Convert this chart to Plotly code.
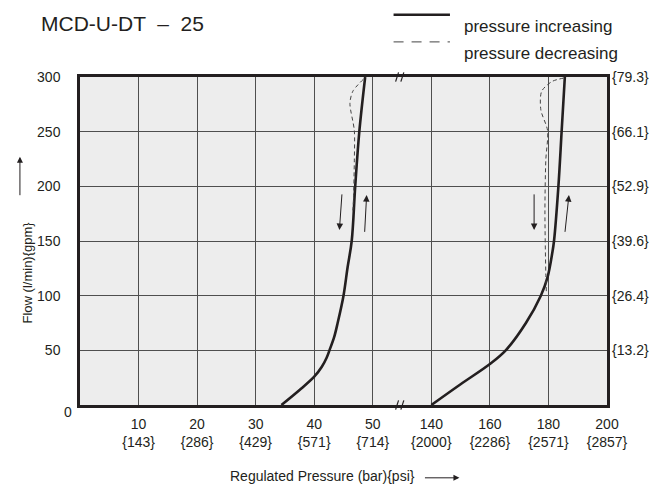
import plotly.graph_objects as go

# ---------------- data ----------------
# low-pressure model (bar) – pressure increasing
left_inc_bar = [34.4, 37.5, 40.0, 41.3, 42.1, 42.6, 43.4, 44.0, 45.0, 45.7, 46.4, 47.0, 47.7, 48.7]
left_inc_flow = [0, 13.7, 25.9, 35, 43, 50, 62, 75, 100, 126, 150, 200, 250, 300]
# low-pressure model – pressure decreasing
left_dec_bar = [48.4, 46.6, 46.1, 46.85, 46.85, 46.7, 46.6]
left_dec_flow = [298, 287, 276, 251, 224, 188, 178]
# high-pressure model – pressure increasing
right_inc_bar = [140, 150, 160, 165.4, 172.3, 177.4, 179.7, 181.3, 181.9, 183.4, 184.5, 185.6]
right_inc_flow = [0, 19, 37.5, 50, 75, 100, 117, 139, 150, 200, 250, 300]
# high-pressure model – pressure decreasing
right_dec_bar = [185.2, 181.3, 177.7, 177.4, 179.7, 179.1, 178.8, 179.1, 179.3]
right_dec_flow = [299, 296, 287, 270, 251, 224, 178, 120, 102]

# direction arrows: (tail bar, tail flow, head bar, head flow)
arrows_down = [(44.75, 194, 44.3, 160), (175.1, 194, 175.1, 160)]
arrows_up = [(48.6, 157, 48.95, 192), (185.6, 157, 187.0, 192)]

x_ticks_bar = [10, 20, 30, 40, 50, 140, 160, 180, 200]
x_ticks_psi = ["{143}", "{286}", "{429}", "{571}", "{714}", "{2000}", "{2286}", "{2571}", "{2857}"]
y_ticks = [50, 100, 150, 200, 250, 300]
y_ticks_gpm = ["{13.2}", "{26.4}", "{39.6}", "{52.9}", "{66.1}", "{79.3}"]

title_text = "MCD-U-DT  \u2013  25"
x_title = "Regulated Pressure (bar){psi}"
y_title = "Flow (l/min){gpm}"
legend_names = ["pressure increasing", "pressure decreasing"]

# ---------------- broken x-axis scale ----------------
BREAK = 54.7          # axis position of the break marks


def ax(p):
    """map bar to the broken axis: 0..55 linear, 140..200 compressed 2:1 after the break"""
    return p if p <= 60 else 60 + (p - 140) / 2.0


def axl(values):
    return [ax(v) for v in values]


INK = "#231f20"
GRID = "#4f4f4f"
FONT = "Liberation Sans, Arial, sans-serif"

fig = go.Figure()

# solid: pressure increasing (both curves in one trace)
fig.add_trace(go.Scatter(
    x=axl(left_inc_bar) + [None] + axl(right_inc_bar),
    y=left_inc_flow + [None] + right_inc_flow,
    mode="lines", name=legend_names[0],
    line=dict(color=INK, width=2.6, shape="spline", smoothing=1.0),
    showlegend=False, connectgaps=False,
))
# dashed: pressure decreasing
fig.add_trace(go.Scatter(
    x=axl(left_dec_bar) + [None] + axl(right_dec_bar),
    y=left_dec_flow + [None] + right_dec_flow,
    mode="lines", name=legend_names[1],
    line=dict(color="#444444", width=1, dash="4px,3px", shape="spline", smoothing=0.8),
    showlegend=False, connectgaps=False,
))
# right axis (gpm) carrier trace
fig.add_trace(go.Scatter(x=[None], y=[None], yaxis="y2", showlegend=False, hoverinfo="skip"))

annotations = []
for tx, ty, hx, hy in arrows_down + arrows_up:
    annotations.append(dict(
        x=ax(hx), y=hy, ax=ax(tx), ay=ty, xref="x", yref="y", axref="x", ayref="y",
        text="", showarrow=True, arrowhead=2, arrowsize=1.3, arrowwidth=1, arrowcolor=INK,
    ))

# zero label at the axis corner
annotations.append(dict(x=-0.034, y=-0.052, xref="paper", yref="paper", text="0",
                        showarrow=False, font=dict(size=14, color=INK, family=FONT)))
# chart title (top-left)
annotations.append(dict(x=-0.078, y=1.203, xref="paper", yref="paper", text=title_text,
                        xanchor="left", yanchor="top", showarrow=False,
                        font=dict(size=21, color=INK, family=FONT)))
# x title + arrow
annotations.append(dict(x=0.46, y=-0.247, xref="paper", yref="paper", text=x_title,
                        showarrow=False, font=dict(size=14, color=INK, family=FONT)))
annotations.append(dict(x=0.72, y=-0.222, xref="paper", yref="paper", text="",
                        showarrow=True, ax=-36, ay=0, arrowhead=2, arrowsize=1.2,
                        arrowwidth=1, arrowcolor=INK))
# y title + arrow
annotations.append(dict(x=-0.118, y=0.405, xref="paper", yref="paper", text=y_title,
                        textangle=-90, showarrow=False, font=dict(size=13, color=INK, family=FONT)))
annotations.append(dict(x=-0.114, y=0.757, xref="paper", yref="paper", text="",
                        showarrow=True, ax=0, ay=40, arrowhead=2, arrowsize=1.2,
                        arrowwidth=1, arrowcolor=INK))
# manual legend texts
annotations.append(dict(x=0.725, y=1.19, xref="paper", yref="paper", text=legend_names[0],
                        xanchor="left", showarrow=False, font=dict(size=17, color=INK, family=FONT)))
annotations.append(dict(x=0.725, y=1.107, xref="paper", yref="paper", text=legend_names[1],
                        xanchor="left", showarrow=False, font=dict(size=17, color=INK, family=FONT)))

shapes = [
    # legend samples
    dict(type="line", xref="paper", yref="paper", x0=0.595, x1=0.702, y0=1.19, y1=1.19,
         line=dict(color=INK, width=2.6)),
    dict(type="line", xref="paper", yref="paper", x0=0.595, x1=0.702, y0=1.107, y1=1.107,
         line=dict(color="#444444", width=1, dash="10px,8px")),
]
# axis-break marks "//" on top and bottom borders
for yb in (0.0, 1.0):
    for off in (-0.55, 0.35):
        shapes.append(dict(type="line", xref="x", yref="paper",
                           x0=BREAK + off - 0.25, x1=BREAK + off + 0.25,
                           y0=yb - 0.014, y1=yb + 0.014,
                           line=dict(color=INK, width=1.2)))

# the page body keeps an 8px margin, so the figure is 8px smaller on each axis
fig.update_layout(
    width=661, height=480,
    margin=dict(l=72, r=62, t=69, b=83),
    paper_bgcolor="white", plot_bgcolor="#ededed",
    font=dict(family=FONT, size=14, color=INK),
    xaxis=dict(
        range=[0, ax(200)], tickvals=axl(x_ticks_bar),
        ticktext=[f"{b}<br>{p}" for b, p in zip(x_ticks_bar, x_ticks_psi)],
        showgrid=True, gridcolor=GRID, gridwidth=1, zeroline=False,
        showline=True, mirror=True, linecolor=INK, linewidth=2.5, ticks="",
        ticklabelstandoff=4,
    ),
    yaxis=dict(
        range=[0, 300], tickvals=y_ticks, showgrid=True, gridcolor=GRID, gridwidth=1,
        zeroline=False, showline=True, mirror=True, linecolor=INK, linewidth=2.5,
        ticks="", ticklabelstandoff=14,
    ),
    yaxis2=dict(
        range=[0, 300], overlaying="y", side="right", tickvals=y_ticks, ticktext=y_ticks_gpm,
        showgrid=False, zeroline=False, showline=False, ticks="", ticklabelstandoff=4,
    ),
    showlegend=False,
    annotations=annotations, shapes=shapes,
)

fig.write_html("out.html")
